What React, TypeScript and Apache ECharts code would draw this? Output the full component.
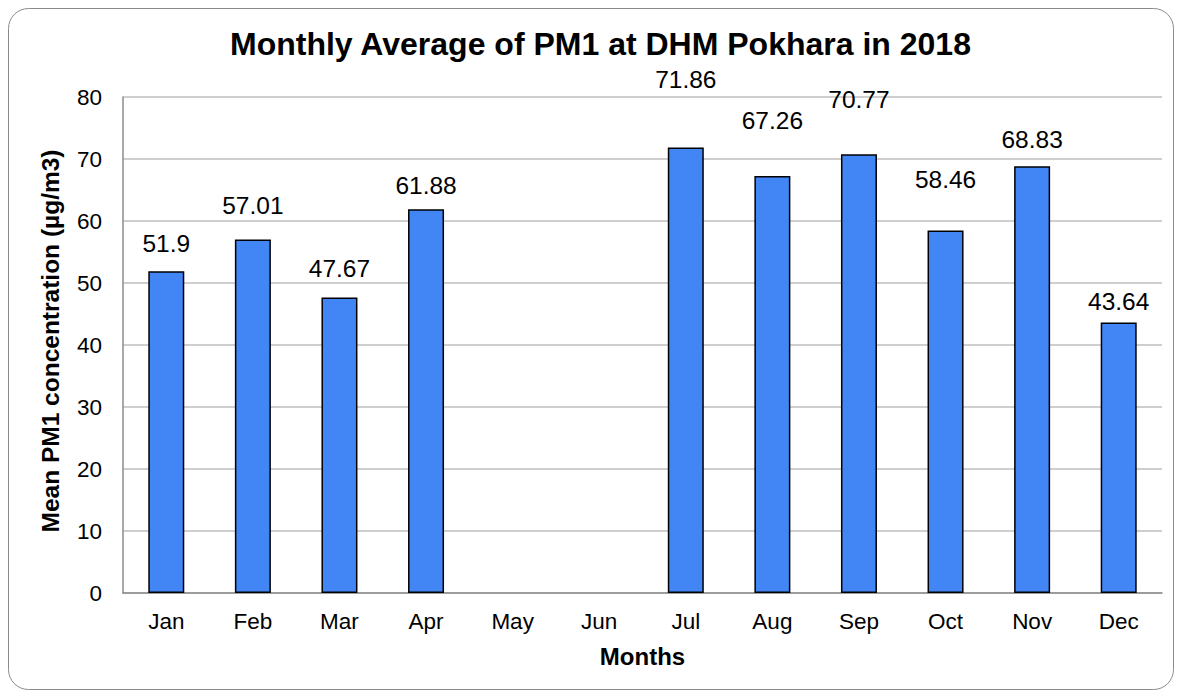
import React, { useEffect, useRef } from "react";
import * as echarts from "echarts";

const months = ["Jan", "Feb", "Mar", "Apr", "May", "Jun", "Jul", "Aug", "Sep", "Oct", "Nov", "Dec"];
const pm1Values: (number | null)[] = [51.9, 57.01, 47.67, 61.88, null, null, 71.86, 67.26, 70.77, 58.46, 68.83, 43.64];
const yTicks = { min: 0, max: 80, interval: 10 };

// extra vertical lift (px) of each data label above the default position, as placed in the reference
const labelLift = [1, 8, 2, -3, 0, 0, 41, 29, 28, 25, 0, -6];

const FONT = "'Liberation Sans', Arial, sans-serif";

export default function App() {
  const ref = useRef<HTMLDivElement>(null);
  useEffect(() => {
    if (!ref.current) return;
    const chart = echarts.init(ref.current, null, { renderer: "svg" });
    const barData = pm1Values.map((v, i) => ({
      value: v,
      label: { distance: 14 + labelLift[i] },
    }));
    chart.setOption({
      animation: false,
      backgroundColor: "#ffffff",
      title: {
        text: "Monthly Average of PM1 at DHM Pokhara in 2018",
        left: 217,
        top: 15,
        padding: 5,
        textStyle: { fontFamily: FONT, fontSize: 32, fontWeight: "bold", color: "#000" },
      },
      graphic: [
        {
          type: "rect",
          shape: { x: 0.5, y: 0.5, width: 1165, height: 681, r: 20 },
          style: { fill: "none", stroke: "#8a8a8a", lineWidth: 1 },
          silent: true,
          z: -1,
        },
      ],
      grid: { left: 115, right: 12, top: 89, bottom: 97, containLabel: false },
      xAxis: {
        type: "category",
        data: months,
        name: "Months",
        nameLocation: "middle",
        nameGap: 51,
        nameTextStyle: { fontFamily: FONT, fontSize: 24, fontWeight: "bold", color: "#000" },
        axisLine: { lineStyle: { color: "#8c8c8c", width: 1.5 } },
        axisTick: { show: false },
        axisLabel: { fontFamily: FONT, fontSize: 22.5, color: "#000", margin: 17 },
      },
      yAxis: {
        type: "value",
        min: yTicks.min,
        max: yTicks.max,
        interval: yTicks.interval,
        name: "Mean PM1 concentration (µg/m3)",
        nameLocation: "middle",
        nameGap: 60,
        nameTextStyle: { fontFamily: FONT, fontSize: 24.5, fontWeight: "bold", color: "#000", padding: [0, 0, 0, 8] },
        axisLine: { show: true, lineStyle: { color: "#8c8c8c", width: 1.5 } },
        axisTick: { show: false },
        splitLine: { lineStyle: { color: "#bfbfbf", width: 1.5 } },
        axisLabel: { fontFamily: FONT, fontSize: 22.5, color: "#000", margin: 21 },
      },
      series: [
        {
          type: "bar",
          data: barData,
          barWidth: 36,
          itemStyle: { color: "#4286f5", borderColor: "#000", borderWidth: 1.5 },
          label: {
            show: true,
            position: "top",
            distance: 14,
            fontFamily: FONT,
            fontSize: 24.5,
            color: "#000",
          },
        },
      ],
    });
    return () => chart.dispose();
  }, []);
  return <div ref={ref} style={{ width: 1166, height: 682 }} />;
}
